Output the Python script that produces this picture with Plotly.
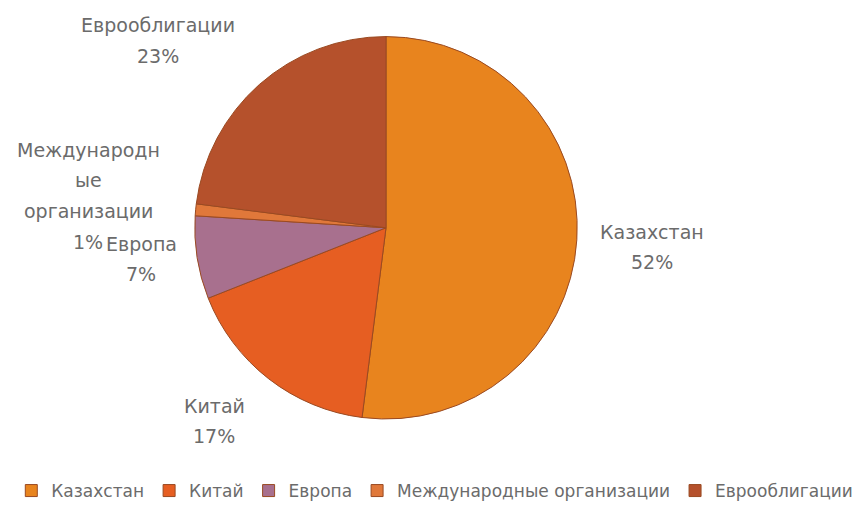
import plotly.graph_objects as go

# Structure of the portfolio by issuer / region
labels = ["Казахстан", "Китай", "Европа", "Международные организации", "Еврооблигации"]
shares = [52, 17, 7, 1, 23]
colors = ["#E8841E", "#E65E22", "#A8708E", "#E0783A", "#B5512C"]

# Slice label lines (long name wrapped) and label centres in pixels (x, y from top)
label_lines = [["Казахстан"], ["Китай"], ["Европа"], ["Международн", "ые", "организации"], ["Еврооблигации"]]
label_centre_px = [(652, 250), (214, 426), (141, 262), (88, 198), (158, 41)]
LINE_PX = 31

W, H = 861, 509
FONT = "DejaVu Sans, Verdana, sans-serif"

fig = go.Figure(
    go.Pie(
        labels=labels,
        values=shares,
        sort=False,
        direction="clockwise",
        rotation=0,
        textinfo="none",
        hoverinfo="label+percent",
        marker=dict(colors=colors, line=dict(color="#9A4A22", width=1)),
        domain=dict(x=[193 / W, 579 / W], y=[1 - 424 / H, 1 - 37 / H]),
    )
)

annotations = []
for lines, val, (cx, cy) in zip(label_lines, shares, label_centre_px):
    rows = lines + [f"{val}%"]
    top = cy - LINE_PX * (len(rows) - 1) / 2
    for i, row in enumerate(rows):
        annotations.append(
            dict(
                text=row,
                x=cx / W, y=1 - (top + i * LINE_PX) / H,
                xref="paper", yref="paper",
                xanchor="center", yanchor="middle",
                showarrow=False,
                font=dict(family=FONT, size=19, color="#6B6B6B"),
            )
        )

fig.update_layout(
    width=W, height=H,
    margin=dict(l=0, r=0, t=0, b=0),
    paper_bgcolor="white",
    plot_bgcolor="white",
    annotations=annotations,
    showlegend=True,
    legend=dict(
        orientation="h",
        x=0.505, xanchor="center",
        y=1 - 497 / H, yanchor="middle",
        font=dict(family=FONT, size=17, color="#6B6B6B"),
        itemwidth=30,
        traceorder="normal",
    ),
)

fig.write_html("out.html")
